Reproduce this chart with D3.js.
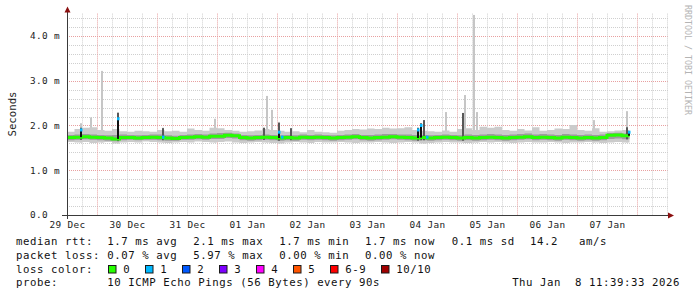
<!DOCTYPE html>
<html>
<head>
<meta charset="utf-8">
<script src="https://cdn.jsdelivr.net/npm/d3@7"></script>
<style>
html,body{margin:0;padding:0;background:#fff;}
svg{display:block;font-family:"DejaVu Sans Mono",monospace;}
</style>
</head>
<body>
<script>
// time base: first 3-hour bin starts 29 Dec 12:00
const t0 = Date.UTC(2025, 11, 29, 12);
const HOUR = 3600e3;
const BIN_HOURS = 3;

// median rtt per bin (ms)
const medianMs = [1.73,1.74,1.75,1.74, 1.73,1.72,1.70,1.73, 1.73,1.72,1.73,1.74, 1.73,1.72,1.71,1.73,
  1.74,1.75,1.74,1.76, 1.76,1.78,1.77,1.73, 1.72,1.73,1.74,1.73, 1.72,1.73,1.72,1.74,
  1.73,1.74,1.73,1.72, 1.73,1.74,1.75,1.73, 1.72,1.73,1.74,1.75, 1.74,1.73,1.72,1.73,
  1.72,1.73,1.74,1.73, 1.72,1.73,1.72,1.73, 1.74,1.73,1.72,1.73, 1.74,1.75,1.73,1.74,
  1.73,1.72,1.74,1.73, 1.72,1.73,1.72,1.73, 1.78,1.79,1.77];

// smoke: outer (min..max) and inner band per bin (ms)
const outerLo = [1.63,1.62,1.63,1.61, 1.62,1.63,1.60,1.62, 1.63,1.62,1.64,1.63, 1.62,1.61,1.62,1.63,
  1.62,1.64,1.63,1.62, 1.63,1.64,1.62,1.61, 1.62,1.63,1.62,1.61, 1.60,1.62,1.63,1.62,
  1.61,1.63,1.62,1.62, 1.63,1.62,1.61,1.62, 1.62,1.63,1.62,1.61, 1.62,1.63,1.62,1.60,
  1.61,1.62,1.63,1.62, 1.62,1.61,1.62,1.63, 1.62,1.63,1.62,1.61, 1.62,1.63,1.62,1.62,
  1.63,1.62,1.61,1.62, 1.62,1.63,1.62,1.61, 1.62,1.63,1.62];
const outerHi = [1.86,1.92,1.95,1.96, 1.90,1.88,1.92,1.87, 1.86,1.88,1.87,1.86, 1.90,1.87,1.88,1.86,
  1.93,1.90,1.88,1.95, 1.94,1.90,1.88,1.86, 1.87,1.89,1.92,1.90, 1.88,1.86,1.87,1.85,
  1.90,1.86,1.85,1.84, 1.88,1.90,1.92,1.91, 1.93,1.92,1.95,1.93, 1.94,1.96,1.90,1.88,
  1.87,1.86,1.89,1.86, 1.92,1.94,1.90,1.97, 1.95,1.97,1.90,1.88, 1.92,1.89,1.96,1.88,
  1.90,1.93,1.92,2.01, 1.90,1.88,1.94,1.86, 1.87,1.89,1.90];
const innerLo = [1.67,1.68,1.69,1.68, 1.67,1.66,1.65,1.67, 1.68,1.67,1.68,1.68, 1.67,1.66,1.66,1.68,
  1.68,1.69,1.68,1.70, 1.70,1.72,1.71,1.67, 1.66,1.67,1.68,1.67, 1.66,1.67,1.66,1.68,
  1.67,1.68,1.67,1.66, 1.67,1.68,1.69,1.67, 1.66,1.67,1.68,1.69, 1.68,1.67,1.66,1.67,
  1.66,1.67,1.68,1.67, 1.66,1.67,1.66,1.67, 1.68,1.67,1.66,1.67, 1.68,1.69,1.67,1.68,
  1.67,1.66,1.68,1.67, 1.66,1.67,1.66,1.67, 1.70,1.71,1.69];
const innerHi = [1.79,1.80,1.81,1.80, 1.79,1.78,1.79,1.80, 1.79,1.78,1.79,1.80, 1.80,1.78,1.77,1.79,
  1.80,1.81,1.80,1.82, 1.83,1.84,1.82,1.79, 1.78,1.79,1.80,1.79, 1.78,1.79,1.78,1.80,
  1.79,1.80,1.79,1.78, 1.79,1.80,1.81,1.79, 1.79,1.80,1.81,1.81, 1.80,1.80,1.79,1.79,
  1.78,1.79,1.80,1.79, 1.78,1.80,1.79,1.80, 1.81,1.80,1.79,1.80, 1.81,1.82,1.80,1.81,
  1.80,1.79,1.81,1.80, 1.79,1.80,1.79,1.80, 1.83,1.84,1.82];

// short spikes (hours after t0): max ping, dark smoke top, median, lost pings
const spikeHours  = [5.6, 9.6, 14, 20.4, 38.4, 59.2, 78.8, 80, 82, 84.8, 86, 89.6,
  140.4, 141.6, 142.8, 144, 151.6, 158.4, 159.2, 162.8, 164, 210.8, 224, 224.8];
const spikeLight  = [2.05, 2.18, 3.22, 2.30, 1.95, 2.15, null, 2.66, 2.35, 2.08, null, null,
  null, null, 2.12, null, 2.30, 2.28, 2.68, 4.47, 2.30, 2.12, 2.32, null];
const spikeDark   = [1.95, null, null, 2.28, 1.94, null, 1.95, null, null, 2.06, null, 1.94,
  1.95, 2.05, 2.12, null, null, 2.28, null, null, null, null, 1.96, null];
const spikeMedian = [1.90, null, null, 2.15, 1.74, null, null, null, null, 1.85, 1.74, null,
  1.90, 2.00, null, 1.74, null, null, null, null, null, null, null, 1.85];
const spikeLoss   = [1, 0, 0, 1, 1, 0, 0, 0, 0, 1, 1, 0,
  1, 1, 0, 1, 0, 0, 0, 0, 0, 0, 0, 1];

const yTicks = [0, 1, 2, 3, 4];
const lossLabels = ["0", "1", "2", "3", "4", "5", "6-9", "10/10"];
const lossColors = ["#26ff00", "#00b8ff", "#0059ff", "#7e00ff", "#ff00ff", "#ff5500", "#ff0000", "#a10000"];
const rttStats = ["1.7 ms avg", "2.1 ms max", "1.7 ms min", "1.7 ms now", "0.1 ms sd", "14.2", "am/s"];
const lossStats = ["0.07 % avg", "5.97 % max", "0.00 % min", "0.00 % now"];
const probeText = "10 ICMP Echo Pings (56 Bytes) every 90s";
const stampText = "Thu Jan \u00a08 11:39:33 2026";

(function(){

const width = 697;
const height = 297;
const plot = {left:67, right:670, top:13.6, bottom:215};

const svg = d3.select("body")
.append("svg")
.attr("width", width)
.attr("height", height);

const x = d3.scaleUtc()
.domain([new Date(t0), new Date(t0 + 241.2*HOUR)])
.range([plot.left, plot.right]);

const y = d3.scaleLinear()
.domain([0, 4.5])
.range([plot.bottom, plot.top]);

const px = v => Math.round(v) + 0.5;

// grid: minor every 0.2 ms / 6 h, major every 1 ms / day
const g = svg.append("g").attr("stroke-width", 1).attr("stroke-dasharray", "1,1");

y.ticks(20).filter(v => v > 0).forEach(v => {
  const major = Math.abs(v - Math.round(v)) < 1e-6;
  g.append("line")
  .attr("x1", plot.left).attr("x2", plot.right - 1)
  .attr("y1", px(y(v))).attr("y2", px(y(v)))
  .attr("stroke", major ? "#e8a0a0" : "#cfcfcf");
});

d3.utcHour.every(6).range(x.domain()[0], x.domain()[1]).forEach(t => {
  if (x(t) <= plot.left + 1 || x(t) >= plot.right - 1) return;
  const major = t.getUTCHours() === 0;
  g.append("line")
  .attr("x1", px(x(t))).attr("x2", px(x(t)))
  .attr("y1", plot.top).attr("y2", plot.bottom)
  .attr("stroke", major ? "#e8a0a0" : "#cfcfcf");
});

// bins
const bins = medianMs.map((m, i) => ({
  t: new Date(t0 + i*BIN_HOURS*HOUR), med: m,
  lo: outerLo[i], hi: outerHi[i], ilo: innerLo[i], ihi: innerHi[i]
}));
bins.push(Object.assign({}, bins[bins.length-1], {t: new Date(t0 + medianMs.length*BIN_HOURS*HOUR)}));
const binAt = h => bins[Math.min(medianMs.length-1, Math.floor(h/BIN_HOURS))];

// max-ping spikes behind the smoke
spikeHours.forEach((h, i) => {
  if (spikeLight[i] == null) return;
  const b = binAt(h);
  svg.append("rect")
  .attr("x", Math.round(x(new Date(t0 + h*HOUR))) - 1)
  .attr("width", 2)
  .attr("y", y(spikeLight[i]))
  .attr("height", y(b.lo) - y(spikeLight[i]))
  .attr("fill", "#c6c6c6");
});

// smoke
svg.append("path")
.datum(bins)
.attr("fill", "#cbcbcb")
.attr("d", d3.area().curve(d3.curveStepAfter).x(d => x(d.t)).y0(d => y(d.lo)).y1(d => y(d.hi)));

svg.append("path")
.datum(bins)
.attr("fill", "#9c9c9c")
.attr("d", d3.area().curve(d3.curveStepAfter).x(d => x(d.t)).y0(d => y(d.ilo)).y1(d => y(d.ihi)));

// dark smoke spikes
spikeHours.forEach((h, i) => {
  if (spikeDark[i] == null) return;
  const b = binAt(h);
  svg.append("rect")
  .attr("x", Math.round(x(new Date(t0 + h*HOUR))) - 1)
  .attr("width", 2)
  .attr("y", y(spikeDark[i]))
  .attr("height", y(b.ilo) - y(spikeDark[i]))
  .attr("fill", "#585858");
});

// median, loss 0
svg.append("path")
.datum(bins)
.attr("fill", "none")
.attr("stroke", lossColors[0])
.attr("stroke-width", 3)
.attr("d", d3.line().curve(d3.curveStepAfter).x(d => x(d.t)).y(d => y(d.med)));

// median spikes and lost-ping colours
spikeHours.forEach((h, i) => {
  if (spikeMedian[i] == null) return;
  const b = binAt(h);
  const cx = Math.round(x(new Date(t0 + h*HOUR)));
  if (spikeMedian[i] > b.med + 0.03) {
    svg.append("rect")
    .attr("x", cx - 1).attr("width", 2)
    .attr("y", y(spikeMedian[i]))
    .attr("height", y(b.med) - y(spikeMedian[i]))
    .attr("fill", "#111");
  }
  svg.append("rect")
  .attr("x", cx - 1).attr("width", 2.5)
  .attr("y", y(spikeMedian[i]) - 1.5).attr("height", 3)
  .attr("fill", lossColors[spikeLoss[i]]);
});

// axes
svg.append("line")
.attr("x1", 62).attr("x2", 670)
.attr("y1", plot.bottom + 0.5).attr("y2", plot.bottom + 0.5)
.attr("stroke", "#3a3a3a");

svg.append("line")
.attr("x1", plot.left + 0.5).attr("x2", plot.left + 0.5)
.attr("y1", plot.bottom + 4).attr("y2", 11)
.attr("stroke", "#3a3a3a");

svg.append("path")
.attr("d", `M${plot.left + 0.5},6.5 L${plot.left - 2.5},12.5 L${plot.left + 3.5},12.5 Z`)
.attr("fill", "#8b1010");

svg.append("path")
.attr("d", `M674,${plot.bottom + 0.5} L668,${plot.bottom - 2.5} L668,${plot.bottom + 3.5} Z`)
.attr("fill", "#8b1010");

// y tick labels
svg.selectAll(".ylab")
.data(yTicks)
.join("text")
.attr("x", 30)
.attr("y", d => y(d) + 3.4)
.attr("font-size", "9.4px")
.attr("letter-spacing", "0.34px")
.attr("fill", "#222")
.text(d => d === 0 ? "0.0" : d3.format(".1f")(d) + " m");

// x labels at noon of each day
const noons = d3.utcDay.range(new Date(t0 - 12*HOUR), new Date(t0 + 9*24*HOUR))
.map(d => new Date(+d + 12*HOUR));

const xa = svg.append("g")
.attr("transform", `translate(0,${plot.bottom})`)
.call(d3.axisBottom(x).tickValues(noons).tickFormat(d3.utcFormat("%d %b")).tickSize(0).tickPadding(6.4));
xa.select(".domain").remove();
xa.selectAll("text")
.attr("font-family", "DejaVu Sans Mono")
.attr("font-size", "9.4px")
.attr("letter-spacing", "0.34px")
.attr("fill", "#222");

// y title
svg.append("text")
.attr("transform", "translate(15.5,114) rotate(-90)")
.attr("text-anchor", "middle")
.attr("font-size", "10.7px")
.attr("fill", "#222")
.text("Seconds");

// watermark
svg.append("text")
.attr("transform", "translate(684.5,5) rotate(90)")
.attr("font-size", "8.3px")
.attr("fill", "#b4b4b4")
.text("RRDTOOL / TOBI OETIKER");

// legend
const leg = svg.append("g")
.attr("font-size", "10.7px")
.attr("letter-spacing", "0.56px")
.attr("fill", "#111");

const colX = [107.3, 193.3, 279.3, 365, 451.7, 530, 579];

leg.append("text").attr("x", 16).attr("y", 245).text("median rtt:");
rttStats.forEach((s, i) => leg.append("text").attr("x", colX[i]).attr("y", 245).text(s));

leg.append("text").attr("x", 16).attr("y", 258.7).text("packet loss:");
lossStats.forEach((s, i) => leg.append("text").attr("x", colX[i]).attr("y", 258.7).text(s));

leg.append("text").attr("x", 16).attr("y", 273.3).text("loss color:");
let bx = 108;
lossLabels.forEach((s, i) => {
  leg.append("rect")
  .attr("x", bx + 0.5).attr("y", 265.5)
  .attr("width", 7.5).attr("height", 7.5)
  .attr("fill", lossColors[i])
  .attr("stroke", "#1a1a1a");
  leg.append("text").attr("x", bx + 15.3).attr("y", 273.3).text(s);
  bx += 37 + 7*(s.length - 1);
});

leg.append("text").attr("x", 16).attr("y", 286).text("probe:");
leg.append("text").attr("x", colX[0]).attr("y", 286).text(probeText);
leg.append("text").attr("x", 680).attr("y", 286).attr("text-anchor", "end").text(stampText);

})();
</script>
</body>
</html>
